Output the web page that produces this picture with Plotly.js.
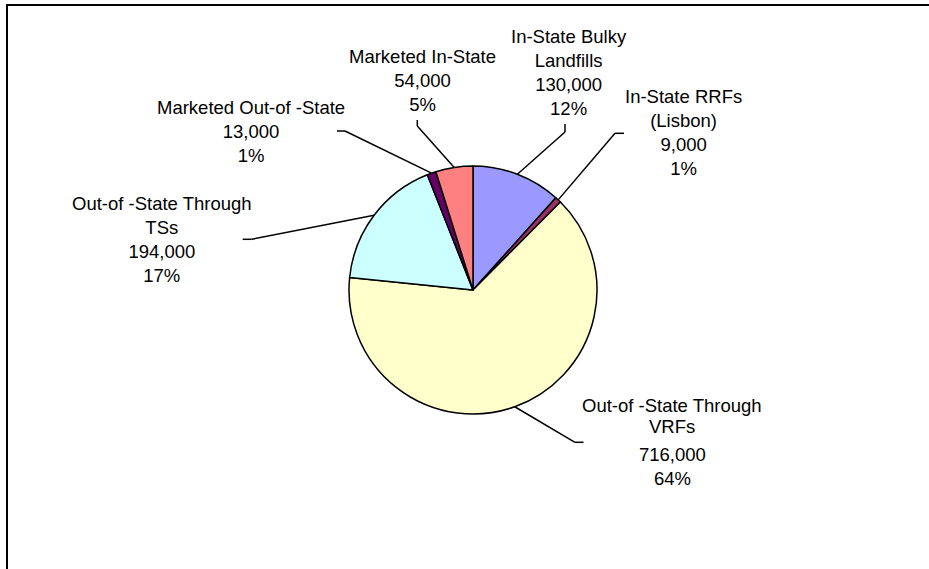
<!DOCTYPE html>
<html><head><meta charset="utf-8">
<script src="https://cdn.plot.ly/plotly-3.0.1.min.js"></script>
<style>html,body{margin:0;padding:0;background:#fff;}#chart{width:929px;height:569px;}</style>
</head><body><div id="chart"></div>
<script>
// ---- data ----
const categories = ["In-State Bulky<br>Landfills", "In-State RRFs<br>(Lisbon)", "Out-of -State Through<br>VRFs", "Out-of -State Through<br>TSs", "Marketed Out-of -State", "Marketed In-State"];
const values = [130000, 9000, 716000, 194000, 13000, 54000];
const colors = ["#9999FF", "#993366", "#FFFFCC", "#CCFFFF", "#660066", "#FF8080"];

// ---- layout (pixels) ----
const W = 929, H = 569;
const cx = 473, cy = 290, R = 124;
const labelPos = [
  {x: 568.8, y: 72.2, elbow: [565, 132], end: [565, 124]},
  {x: 683.7, y: 132.4, elbow: [615, 133.3], end: [624, 133.3]},
  {x: 672.4, nameYs: [405.9, 426.3], valY: 466.3, elbow: [575, 442.3], end: [583.5, 442.3]},
  {x: 162.3, y: 239.6, elbow: [251.7, 239.3], end: [242.7, 239.3]},
  {x: 251, y: 131.6, elbow: [345, 131], end: [337, 131]},
  {x: 422, y: 80.6, elbow: [417.3, 126], end: [417.3, 120]}
];

const px = x => x / W;
const py = y => 1 - y / H;
const font = {family: "Liberation Sans, Arial, sans-serif", size: 18.5, color: "#000"};
const total = values.reduce((a, b) => a + b, 0);

const shapes = [
  {type: "line", xref: "paper", yref: "paper", x0: px(6), x1: 1, y0: py(5), y1: py(5), line: {color: "#000", width: 2}},
  {type: "line", xref: "paper", yref: "paper", x0: px(7), x1: px(7), y0: py(5), y1: 0, line: {color: "#000", width: 2}}
];
const annotations = [];
const addText = (x, y, text) => annotations.push({xref: "paper", yref: "paper", x: px(x), y: py(y), text: text, showarrow: false, xanchor: "center", yanchor: "middle", align: "center", font: font});
let cum = 0;
values.forEach((v, i) => {
  const mid = (cum + v / 2) / total * 2 * Math.PI;
  cum += v;
  const ex = cx + R * Math.sin(mid), ey = cy - R * Math.cos(mid);
  const L = labelPos[i];
  shapes.push({type: "line", xref: "paper", yref: "paper", x0: px(ex), y0: py(ey), x1: px(L.elbow[0]), y1: py(L.elbow[1]), line: {color: "#000", width: 1.5}});
  shapes.push({type: "line", xref: "paper", yref: "paper", x0: px(L.elbow[0]), y0: py(L.elbow[1]), x1: px(L.end[0]), y1: py(L.end[1]), line: {color: "#000", width: 1.5}});
  const valTxt = v.toLocaleString("en-US") + "<br>" + Math.round(v / total * 100) + "%";
  if (L.nameYs !== undefined) {
    categories[i].split("<br>").forEach((line, k) => addText(L.x, L.nameYs[k], line));
    addText(L.x, L.valY, valTxt);
  } else {
    addText(L.x, L.y, categories[i] + "<br>" + valTxt);
  }
});

const trace = {
  type: "pie",
  labels: categories,
  values: values,
  sort: false,
  direction: "clockwise",
  rotation: 0,
  textinfo: "none",
  hoverinfo: "none",
  marker: {colors: colors, line: {color: "#000", width: 1.5}},
  domain: {x: [px(cx - R), px(cx + R)], y: [py(cy + R), py(cy - R)]},
  showlegend: false
};

Plotly.newPlot("chart", [trace], {
  width: W, height: H,
  margin: {l: 0, r: 0, t: 0, b: 0},
  paper_bgcolor: "#fff",
  showlegend: false,
  shapes: shapes,
  annotations: annotations,
  font: font
}, {staticPlot: true, displayModeBar: false});
</script>
</body></html>
